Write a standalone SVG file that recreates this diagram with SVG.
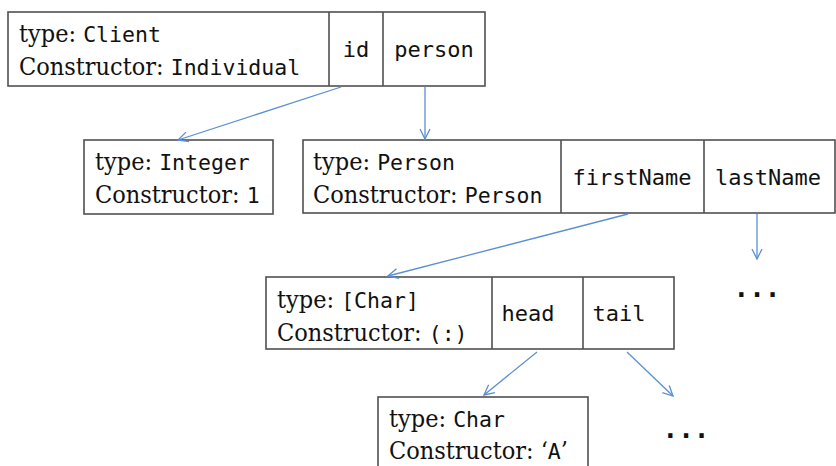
<svg xmlns="http://www.w3.org/2000/svg" width="836" height="466" viewBox="0 0 836 466">
  <style>
    .box { fill: #ffffff; stroke: #505050; stroke-width: 1.6; }
    .div { stroke: #505050; stroke-width: 1.6; }
    .s { font-family: "DejaVu Serif Condensed", "DejaVu Serif", serif; font-stretch: condensed; font-size: 25px; fill: #111; }
    .m { font-family: "DejaVu Sans Mono", "Liberation Mono", monospace; font-stretch: normal; font-size: 21.5px; fill: #111; }
    .f { font-family: "DejaVu Sans Mono", "Liberation Mono", monospace; font-size: 22px; fill: #111; text-anchor: middle; }
    .dots { font-family: "DejaVu Sans Mono", monospace; font-weight: bold; font-size: 26px; fill: #111; text-anchor: middle; }
    .edge { stroke: #5b8fd4; stroke-width: 1.3; fill: none; marker-end: url(#arr); }
  </style>
  <defs>
    <marker id="arr" markerUnits="userSpaceOnUse" markerWidth="12" markerHeight="12" refX="10" refY="5" orient="auto" overflow="visible">
      <path d="M0,0 L10,5 L0,10" fill="none" stroke="#5b8fd4" stroke-width="1.3"/>
    </marker>
  </defs>

  <rect width="836" height="466" fill="#ffffff"/>

  <!-- Client value -->
  <g id="client">
    <rect class="box" x="8" y="12" width="477" height="74"/>
    <line class="div" x1="329" y1="12" x2="329" y2="86"/>
    <line class="div" x1="383" y1="12" x2="383" y2="86"/>
    <text class="s" x="19" y="42">type: <tspan class="m">Client</tspan></text>
    <text class="s" x="19" y="75">Constructor: <tspan class="m">Individual</tspan></text>
    <text class="f" x="356" y="57">id</text>
    <text class="f" x="434" y="57">person</text>
  </g>

  <!-- Integer value -->
  <g id="integer">
    <rect class="box" x="84" y="140" width="189" height="74"/>
    <text class="s" x="95" y="170">type: <tspan class="m">Integer</tspan></text>
    <text class="s" x="95" y="203">Constructor: <tspan class="m">1</tspan></text>
  </g>

  <!-- Person value -->
  <g id="person">
    <rect class="box" x="303" y="140" width="532" height="73"/>
    <line class="div" x1="561" y1="140" x2="561" y2="213"/>
    <line class="div" x1="704" y1="140" x2="704" y2="213"/>
    <text class="s" x="313" y="170">type: <tspan class="m">Person</tspan></text>
    <text class="s" x="313" y="203">Constructor: <tspan class="m">Person</tspan></text>
    <text class="f" x="632" y="185">firstName</text>
    <text class="f" x="768" y="185">lastName</text>
  </g>

  <!-- list of characters -->
  <g id="charlist">
    <rect class="box" x="266" y="277" width="408" height="72"/>
    <line class="div" x1="492" y1="277" x2="492" y2="349"/>
    <line class="div" x1="583" y1="277" x2="583" y2="349"/>
    <text class="s" x="277" y="308">type: <tspan class="m">[Char]</tspan></text>
    <text class="s" x="277" y="341">Constructor: <tspan class="m">(:)</tspan></text>
    <text class="f" x="528" y="321">head</text>
    <text class="f" x="619" y="321">tail</text>
  </g>

  <!-- single character -->
  <g id="char">
    <rect class="box" x="378" y="397" width="210" height="80"/>
    <text class="s" x="389" y="427">type: <tspan class="m">Char</tspan></text>
    <text class="s" x="389" y="459">Constructor: ‘<tspan class="m">A</tspan>’</text>
  </g>

  <!-- elided parts -->
  <g id="more-lastname">
    <text class="dots" x="757" y="297">...</text>
  </g>
  <g id="more-tail">
    <text class="dots" x="686" y="438">...</text>
  </g>

  <!-- connectors -->
  <g id="connectors">
    <line class="edge" x1="341" y1="87" x2="178" y2="140"/>
    <line class="edge" x1="425" y1="87" x2="425" y2="139"/>
    <line class="edge" x1="628" y1="214" x2="388" y2="276"/>
    <line class="edge" x1="757" y1="214" x2="757" y2="259"/>
    <line class="edge" x1="537" y1="352" x2="484" y2="395"/>
    <line class="edge" x1="627" y1="352" x2="673" y2="396"/>
  </g>
</svg>
